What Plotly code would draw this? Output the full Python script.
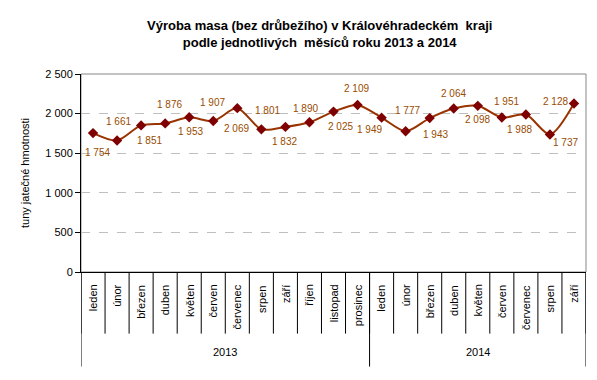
import plotly.graph_objects as go

months = ["leden", "únor", "březen", "duben", "květen", "červen", "červenec", "srpen",
          "září", "říjen", "listopad", "prosinec",
          "leden", "únor", "březen", "duben", "květen", "červen", "červenec", "srpen", "září"]
years = ["2013", "2014"]
year_counts = [12, 9]
values = [1754, 1661, 1851, 1876, 1953, 1907, 2069, 1801, 1832, 1890, 2025, 2109,
          1949, 1777, 1943, 2064, 2098, 1951, 1988, 1737, 2128]

# label offsets (style): shift of each data label from its point, in px (dx right, dy down)
label_dx = [4, 1, 8, 4, 1, -1, -1, 6, -1, -4, 7, -1, -12, 2, 6, 0, 0, 5, -6, 16, -18]
label_dy = [19, -19, 15, -19, 14, -18, 20, -19, 15, -14, 15, -16, 12, -21, 16, -15, 14, -16, 15, 8, -2]

OFF = 8  # page body margin
W, H = 597 - OFF, 380 - OFF
L, R, T, B = 81 - OFF, 11, 74 - OFF, 380 - 272.3
ph = H - T - B
pw = W - L - R

def py(px):
    return (H - B - (px - OFF)) / ph

def pxx(px):
    return (px - OFF - L) / pw

x = list(range(len(values)))
FONT = "Liberation Sans, Arial"

fig = go.Figure()
fig.add_trace(go.Scatter(
    x=x, y=values, mode="lines+markers",
    line=dict(color="#993300", width=2, shape="spline", smoothing=0.8),
    marker=dict(symbol="diamond", size=8, color="#7F0000"),
    cliponaxis=False, showlegend=False, hoverinfo="x+y",
))

shapes = []
shapes.append(dict(type="rect", xref="paper", yref="paper", x0=0, x1=1, y0=0, y1=1,
                   line=dict(color="#868686", width=1), layer="below"))
for i in range(len(values) + 1):
    shapes.append(dict(type="line", xref="x", yref="paper", x0=i - 0.5, x1=i - 0.5,
                       y0=0, y1=py(334), line=dict(color="black", width=1)))
edges = [0]
for c in year_counts:
    edges.append(edges[-1] + c)
for e in edges:
    shapes.append(dict(type="line", xref="x", yref="paper", x0=e - 0.5, x1=e - 0.5,
                       y0=0, y1=py(367), line=dict(color="black", width=1)))

annotations = []
for i, v in enumerate(values):
    annotations.append(dict(x=i, y=v, xref="x", yref="y",
                            text=f"{v:,}".replace(",", " "), showarrow=False,
                            xanchor="center", yanchor="middle",
                            xshift=label_dx[i], yshift=-label_dy[i],
                            font=dict(family=FONT, size=10, color="#994C00")))
for i, m in enumerate(months):
    annotations.append(dict(x=i, y=py(283), xref="x", yref="paper", text=m, textangle=-90,
                            showarrow=False, xanchor="center", yanchor="top",
                            font=dict(family=FONT, size=11, color="black")))
for yi, yr in enumerate(years):
    center = (edges[yi] + edges[yi + 1] - 1) / 2
    annotations.append(dict(x=center, y=py(352), xref="x", yref="paper", text=yr,
                            showarrow=False, xanchor="center", yanchor="middle",
                            font=dict(family=FONT, size=11, color="black")))
annotations.append(dict(x=pxx(25), y=0.5, xref="paper", yref="paper",
                        text="tuny jatečné hmotnosti", textangle=-90, showarrow=False,
                        xanchor="center", yanchor="middle",
                        font=dict(family=FONT, size=11, color="black")))
annotations.append(dict(x=pxx(319), y=py(33.5), xref="paper", yref="paper",
                        text="<b>Výroba masa (bez drůbežího) v Královéhradeckém  kraji<br>podle jednotlivých  měsíců roku 2013 a 2014</b>",
                        showarrow=False, xanchor="center", yanchor="middle",
                        font=dict(family=FONT, size=13, color="black")))

fig.update_layout(
    width=W, height=H, margin=dict(l=L, r=R, t=T, b=B, autoexpand=False),
    paper_bgcolor="white", plot_bgcolor="white",
    separators=", ",
    shapes=shapes, annotations=annotations,
    xaxis=dict(range=[-0.5, len(values) - 0.5], showticklabels=False, showgrid=False,
               zeroline=False, showline=True, linecolor="black", linewidth=1, ticks=""),
    yaxis=dict(range=[0, 2500], dtick=500, tickformat=",d", showgrid=True,
               gridcolor="#BFBFBF", griddash="dash", gridwidth=1, zeroline=False,
               showline=True, linecolor="black", linewidth=1, ticks="outside",
               ticklen=5, tickcolor="black",
               tickfont=dict(family=FONT, size=11, color="black")),
)

fig.write_html("out.html")
